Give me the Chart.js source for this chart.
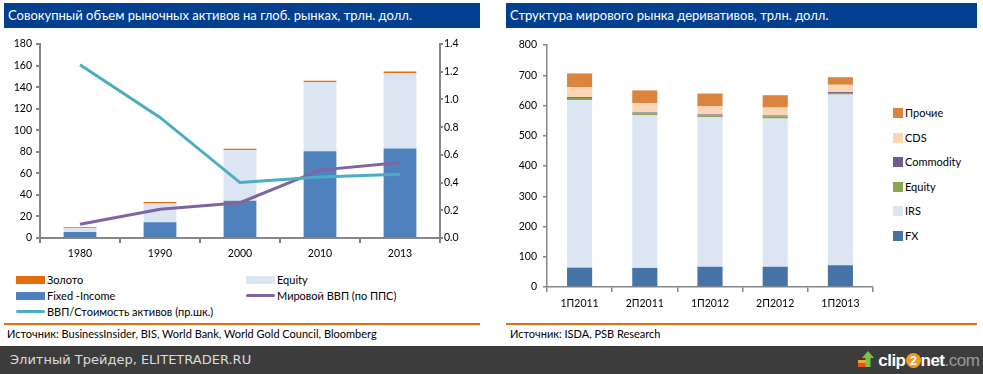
<!DOCTYPE html>
<html>
<head>
<meta charset="utf-8">
<script src="https://cdn.jsdelivr.net/npm/chart.js@4.4.1/dist/chart.umd.min.js"></script>
<style>
    body { margin: 0; width: 983px; height: 374px; background: #fff; position: relative; overflow: hidden; font-family: Lato, "Open Sans", sans-serif; color: #000; }
    .abs { position: absolute; }
    .hdr { position: absolute; top: 3px; height: 25px; background: #023f8f; color: #fff; font-size: 13px; line-height: 25px; padding-left: 4px; box-sizing: border-box; white-space: nowrap; }
    .sep { position: absolute; top: 323px; height: 2px; background: #e46c0a; }
    .src { position: absolute; top: 327px; font-size: 11px; white-space: nowrap; }
    .lg { position: absolute; font-size: 11px; white-space: nowrap; line-height: 14px; }
    .sw { position: absolute; }
    #footer { position: absolute; left: 0; top: 346px; width: 983px; height: 28px; background: #3c3c3c; }
    #footer .txt { position: absolute; left: 10px; top: 6px; font-family: "DejaVu Sans", sans-serif; font-size: 13px; color: #dcdcdc; }
    #logo { position: absolute; left: 858px; top: 4px; height: 20px; font-family: "Liberation Sans", Arial, sans-serif; font-size: 17px; font-weight: bold; color: #fff; white-space: nowrap; letter-spacing: -0.5px; }
    #logo .two { display: inline-block; width: 15px; height: 15px; border-radius: 8px; background: #f39a1e; color: #fff; font-size: 13px; line-height: 15px; text-align: center; vertical-align: 1px; }
    #logo .com { color: #9a9a9a; font-weight: normal; }
</style>
</head>
<body>

<div class="hdr" style="left:4px; width:476px;">Совокупный объем рыночных активов на глоб. рынках, трлн. долл.</div>
<div class="hdr" style="left:506px; width:471px;">Структура мирового рынка деривативов, трлн. долл.</div>

<canvas id="leftChart" class="abs" style="left:0; top:30px;" width="480" height="240"></canvas>
<canvas id="rightChart" class="abs" style="left:495px; top:30px;" width="380" height="290"></canvas>

<!-- легенда слева -->
<div class="sw" style="left:16px; top:276px; width:29px; height:8px; background:#e46c0a;"></div>
<div class="lg" style="left:47px; top:273px;">Золото</div>
<div class="sw" style="left:246px; top:276px; width:29px; height:8px; background:#dce6f2;"></div>
<div class="lg" style="left:277px; top:273px;">Equity</div>
<div class="sw" style="left:16px; top:292px; width:29px; height:8px; background:#4f81bd;"></div>
<div class="lg" style="left:47px; top:289px;">Fixed -Income</div>
<div class="sw" style="left:246px; top:294px; width:29px; height:3px; background:#8064a2; border-radius:2px;"></div>
<div class="lg" style="left:277px; top:289px;">Мировой ВВП (по ППС)</div>
<div class="sw" style="left:16px; top:310px; width:29px; height:3px; background:#4bacc6; border-radius:2px;"></div>
<div class="lg" style="left:47px; top:305px;">ВВП/Стоимость активов (пр.шк.)</div>

<!-- легенда справа -->
<div id="rightLegend"></div>

<div class="sep" style="left:4px; width:476px;"></div>
<div class="sep" style="left:506px; width:471px;"></div>
<div class="src" style="left:7px;">Источник: BusinessInsider, BIS, World Bank, World Gold Council, Bloomberg</div>
<div class="src" style="left:510px;">Источник: ISDA, PSB Research</div>

<div id="footer">
    <div class="txt">Элитный Трейдер, ELITETRADER.RU</div>
    <div id="logo">
        <svg width="16" height="18" viewBox="0 0 16 18" style="vertical-align:-2px;">
            <rect x="0" y="12" width="9" height="5" fill="#e8501e"/>
            <rect x="0" y="10" width="9" height="3" fill="#f5a623"/>
            <polygon points="10,1 16,8 12.5,8 12.5,17 7.5,17 7.5,8 4,8" fill="#7cc242"/>
        </svg>
        clip<span class="two">2</span>net<span class="com">.com</span>
    </div>
</div>

<script>
/*******************************************************************************/
// Datos

const years = ["1980", "1990", "2000", "2010", "2013"];
const fixedIncome = [5.5, 14.5, 34.5, 80.5, 83];
const equityAssets = [3.5, 17.5, 47, 64, 70];
const gold = [1, 1.5, 1.2, 1.5, 1.5];
const worldGdp = [12.7, 26.6, 32.7, 63, 70];
const gdpToAssets = [1.25, 0.87, 0.40, 0.44, 0.46];

const periods = ["1П2011", "2П2011", "1П2012", "2П2012", "1П2013"];
const fx = [64, 63, 67, 67, 72];
const irs = [554, 505, 494, 490, 564];
const equityDeriv = [7, 6, 6.5, 7, 5.5];
const commodity = [3, 3, 3, 3, 3];
const cds = [32, 30, 27, 26, 24];
const other = [46, 43, 42, 41, 25];

const rightLegendItems = [
    ["Прочие", "#db843d"],
    ["CDS", "#fcd5b5"],
    ["Commodity", "#71588f"],
    ["Equity", "#89a54e"],
    ["IRS", "#dce6f2"],
    ["FX", "#4572a7"]
];

/*******************************************************************************/
// Comunes

const axisColor = "#868686";
const tickFont = { family: "Lato, 'Open Sans', sans-serif", size: 10.5 };

function fixWidth(w) { return (scale) => { scale.width = w; }; }
function fixHeight(h) { return (scale) => { scale.height = h; }; }

/*******************************************************************************/
// Grafico izquierdo

new Chart(document.getElementById("leftChart"), {
    type: "bar",
    data: {
        labels: years,
        datasets: [
            { type: "line", label: "ВВП/Стоимость активов (пр.шк.)", data: gdpToAssets, yAxisID: "y1",
              borderColor: "#4bacc6", borderWidth: 3, pointRadius: 0, tension: 0, order: 0 },
            { type: "line", label: "Мировой ВВП (по ППС)", data: worldGdp, yAxisID: "y", stack: "gdp",
              borderColor: "#8064a2", borderWidth: 3, pointRadius: 0, tension: 0, order: 0 },
            { label: "Fixed -Income", data: fixedIncome, backgroundColor: "#4f81bd", stack: "a", order: 1 },
            { label: "Equity", data: equityAssets, backgroundColor: "#dce6f2", stack: "a", order: 1 },
            { label: "Золото", data: gold, backgroundColor: "#e46c0a", stack: "a", order: 1 }
        ]
    },
    options: {
        responsive: false,
        animation: false,
        layout: { padding: { top: 14, left: 0, right: 0, bottom: 0 } },
        datasets: { bar: { categoryPercentage: 1, barPercentage: 0.41, borderWidth: 0 } },
        plugins: { legend: { display: false }, tooltip: { enabled: false } },
        scales: {
            x: {
                stacked: true,
                afterFit: fixHeight(32),
                grid: { drawOnChartArea: false, color: axisColor, lineWidth: 2, tickLength: 5 },
                border: { color: axisColor, width: 2 },
                ticks: { color: "#000", font: tickFont, padding: 4, maxRotation: 0 }
            },
            y: {
                stacked: true,
                min: 0, max: 180,
                afterFit: fixWidth(40),
                grid: { drawOnChartArea: false, color: axisColor, lineWidth: 2, tickLength: 4 },
                border: { color: axisColor, width: 2 },
                ticks: { stepSize: 20, color: "#000", font: tickFont, padding: 4 }
            },
            y1: {
                position: "right",
                min: 0, max: 1.4,
                afterFit: fixWidth(40),
                grid: { drawOnChartArea: false, color: axisColor, lineWidth: 2, tickLength: 3 },
                border: { color: axisColor, width: 2 },
                ticks: { stepSize: 0.2, color: "#000", font: tickFont, padding: 1,
                         callback: (v) => v.toFixed(1) }
            }
        }
    }
});

/*******************************************************************************/
// Grafico derecho

new Chart(document.getElementById("rightChart"), {
    type: "bar",
    data: {
        labels: periods,
        datasets: [
            { label: "FX", data: fx, backgroundColor: "#4572a7" },
            { label: "IRS", data: irs, backgroundColor: "#dce6f2" },
            { label: "Equity", data: equityDeriv, backgroundColor: "#89a54e" },
            { label: "Commodity", data: commodity, backgroundColor: "#71588f" },
            { label: "CDS", data: cds, backgroundColor: "#fcd5b5" },
            { label: "Прочие", data: other, backgroundColor: "#db843d" }
        ]
    },
    options: {
        responsive: false,
        animation: false,
        layout: { padding: { top: 15, left: 0, right: 2, bottom: 0 } },
        datasets: { bar: { categoryPercentage: 1, barPercentage: 0.385, borderWidth: 0 } },
        plugins: { legend: { display: false }, tooltip: { enabled: false } },
        scales: {
            x: {
                stacked: true,
                afterFit: fixHeight(33),
                grid: { drawOnChartArea: false, color: axisColor, lineWidth: 1.5, tickLength: 5 },
                border: { color: axisColor, width: 1.5 },
                ticks: { color: "#000", font: tickFont, padding: 5, maxRotation: 0 }
            },
            y: {
                stacked: true,
                min: 0, max: 800,
                afterFit: fixWidth(52),
                grid: { drawOnChartArea: false, color: axisColor, lineWidth: 1.5, tickLength: 4 },
                border: { color: axisColor, width: 1.5 },
                ticks: { stepSize: 100, color: "#000", font: tickFont, padding: 6 }
            }
        }
    }
});

/*******************************************************************************/
// Leyenda derecha

const leyenda = document.getElementById("rightLegend");
rightLegendItems.forEach((item, i) => {
    const top = 108 + i * 24.6;
    leyenda.innerHTML += `
        <div class="sw" style="left:893px; top:${top}px; width:10px; height:10px; background:${item[1]};"></div>
        <div class="lg" style="left:905px; top:${top - 2}px;">${item[0]}</div>`;
});
</script>
</body>
</html>
